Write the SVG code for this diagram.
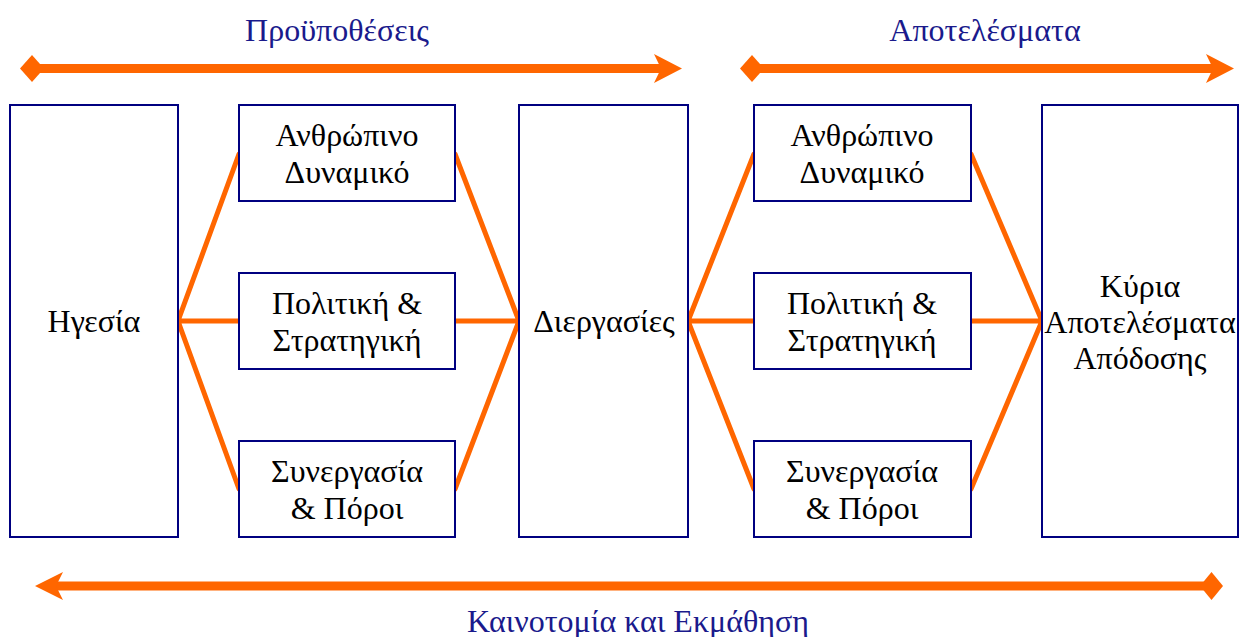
<svg xmlns="http://www.w3.org/2000/svg" width="1248" height="637" viewBox="0 0 1248 637">
<style>
.box{fill:#fff;stroke:#000080;stroke-width:2}
.t{font-family:"Liberation Serif","Times New Roman",serif;font-size:32px;fill:#000;text-anchor:middle}
.h{font-family:"Liberation Serif","Times New Roman",serif;font-size:32px;fill:#1a1a8c;text-anchor:middle}
.ln{stroke:#ff6600;stroke-width:5;fill:none;stroke-linecap:round}
.ar{stroke:#ff6600;stroke-width:9;fill:none}
.hd{fill:#ff6600}
</style>
<g id="titles">
<text class="h" x="337" y="41">Προϋποθέσεις</text>
<text class="h" x="985" y="41">Αποτελέσματα</text>
<text class="h" x="638" y="632">Καινοτομία και Εκμάθηση</text>
</g>
<g id="connectors">
<line class="ar" x1="40" y1="68.5" x2="662" y2="68.5"/>
<polygon class="hd" points="20,68.5 32,55 44,68.5 32,82"/>
<polygon class="hd" points="654,54 682,68.5 654,83 661,68.5"/>
<line class="ar" x1="760" y1="68.5" x2="1213" y2="68.5"/>
<polygon class="hd" points="740,68.5 752,55 764,68.5 752,82"/>
<polygon class="hd" points="1206,54 1234,68.5 1206,83 1213,68.5"/>
<line class="ar" x1="55" y1="586" x2="1205" y2="586"/>
<polygon class="hd" points="1200,586 1211.5,572 1223,586 1211.5,600"/>
<polygon class="hd" points="63,572 35,586 63,600 56,586"/>
<path class="ln" d="M239,154 L178,321 L239,489 M178,321 H239"/>
<path class="ln" d="M455,154 L519,321 L455,489 M455,321 H519"/>
<path class="ln" d="M754,154 L688,321 L754,489 M688,321 H754"/>
<path class="ln" d="M971,154 L1042,321 L971,489 M971,321 H1042"/>
</g>
<g id="n-hgesia">
<rect class="box" x="10" y="105" width="168" height="432"/>
<text class="t" x="94" y="332">Ηγεσία</text>
</g>
<g id="n-anthr1">
<rect class="box" x="239" y="105" width="216" height="96"/>
<text class="t" x="347" y="146">Ανθρώπινο</text>
<text class="t" x="347" y="183">Δυναμικό</text>
</g>
<g id="n-polit1">
<rect class="box" x="239" y="273" width="216" height="96"/>
<text class="t" x="347" y="314">Πολιτική &amp;</text>
<text class="t" x="347" y="351">Στρατηγική</text>
</g>
<g id="n-syn1">
<rect class="box" x="239" y="441" width="216" height="96"/>
<text class="t" x="347" y="482">Συνεργασία</text>
<text class="t" x="347" y="519">&amp; Πόροι</text>
</g>
<g id="n-dierg">
<rect class="box" x="519" y="105" width="169" height="432"/>
<text class="t" x="604" y="332">Διεργασίες</text>
</g>
<g id="n-anthr2">
<rect class="box" x="754" y="105" width="217" height="96"/>
<text class="t" x="862" y="146">Ανθρώπινο</text>
<text class="t" x="862" y="183">Δυναμικό</text>
</g>
<g id="n-polit2">
<rect class="box" x="754" y="273" width="217" height="96"/>
<text class="t" x="862" y="314">Πολιτική &amp;</text>
<text class="t" x="862" y="351">Στρατηγική</text>
</g>
<g id="n-syn2">
<rect class="box" x="754" y="441" width="217" height="96"/>
<text class="t" x="862" y="482">Συνεργασία</text>
<text class="t" x="862" y="519">&amp; Πόροι</text>
</g>
<g id="n-kyria">
<rect class="box" x="1042" y="105" width="196" height="432"/>
<text class="t" x="1140" y="297">Κύρια</text>
<text class="t" x="1140" y="333">Αποτελέσματα</text>
<text class="t" x="1140" y="369">Απόδοσης</text>
</g>
</svg>
